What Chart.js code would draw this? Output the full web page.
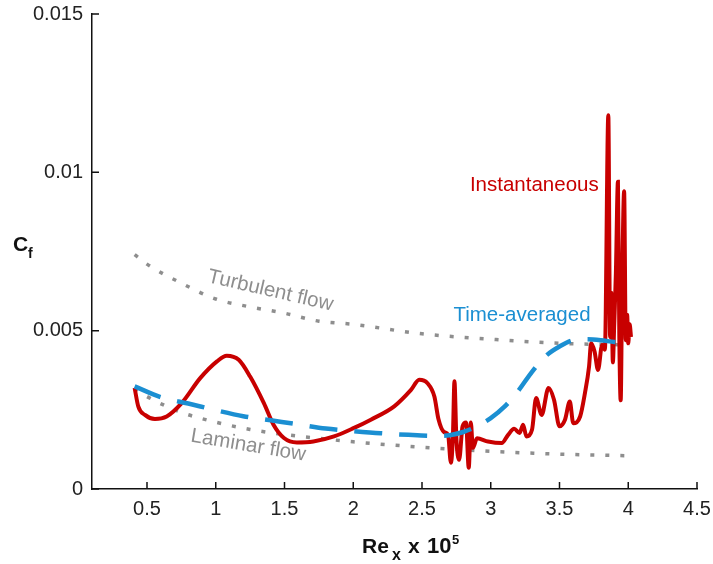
<!DOCTYPE html>
<html>
<head>
<meta charset="utf-8">
<script src="https://cdn.jsdelivr.net/npm/chart.js@4/dist/chart.umd.min.js"></script>
<style>
  html, body { margin: 0; padding: 0; background: #fff; }
  #wrap { width: 713px; height: 564px; }
</style>
</head>
<body>
<div id="wrap"><canvas id="cf"></canvas></div>
<script>
// Re_x (x 10^5) and Cf
const turbX = [0.41, 0.5, 0.75, 1.0, 1.25, 1.5, 1.75, 2.0, 2.5, 3.0, 3.5, 4.01];
const turbY = [0.0074, 0.0071, 0.0065, 0.0060, 0.00575, 0.00555, 0.0053, 0.0052, 0.0049, 0.00473, 0.0046, 0.00455];

const lamX = [0.41, 0.5, 0.75, 1.0, 1.25, 1.5, 1.75, 2.0, 2.5, 3.0, 3.5, 4.01];
const lamY = [0.00318, 0.00292, 0.00242, 0.00211, 0.00188, 0.00172, 0.0016, 0.00149, 0.00132, 0.00119, 0.0011, 0.00105];

const avgX = [0.41, 0.6, 0.8, 1.0, 1.2, 1.4, 1.6, 1.8, 2.0, 2.2, 2.4, 2.6, 2.7, 2.8, 2.9, 3.0, 3.1, 3.2, 3.3, 3.4, 3.5, 3.6, 3.7, 3.8, 3.9, 4.01];
const avgY = [0.00324, 0.0029, 0.0027, 0.00249, 0.0023, 0.00217, 0.00204, 0.00191, 0.00183, 0.00176, 0.00171, 0.00168, 0.0017, 0.0018, 0.00198, 0.00224, 0.0026, 0.0031, 0.0037, 0.0042, 0.0045, 0.0047, 0.00473, 0.0047, 0.00464, 0.00461];

const instX = [0.41, 0.437, 0.485, 0.558, 0.643, 0.752, 0.887, 1.009, 1.08, 1.167, 1.25, 1.35, 1.42, 1.496, 1.59, 1.71, 1.86, 2.006, 2.128, 2.298, 2.42, 2.48, 2.54, 2.59, 2.62, 2.66, 2.69, 2.71, 2.725, 2.736, 2.75, 2.77, 2.795, 2.82, 2.84, 2.855, 2.87, 2.9, 2.98, 3.08, 3.125, 3.17, 3.21, 3.235, 3.26, 3.3, 3.33, 3.37, 3.42, 3.46, 3.5, 3.54, 3.575, 3.6, 3.65, 3.685, 3.715, 3.73, 3.755, 3.78, 3.81, 3.83, 3.855, 3.868, 3.878, 3.888, 3.898, 3.91, 3.925, 3.935, 3.945, 3.955, 3.97, 3.982, 3.992, 4.0, 4.01, 4.02];
const instY = [0.00319, 0.0026, 0.00234, 0.00221, 0.00229, 0.00271, 0.0035, 0.00403, 0.00421, 0.00408, 0.00355, 0.00271, 0.00203, 0.00161, 0.00147, 0.0015, 0.00166, 0.00193, 0.00219, 0.00261, 0.00313, 0.00345, 0.00334, 0.00292, 0.0022, 0.0018, 0.0017, 0.00083, 0.0017, 0.0034, 0.0016, 0.00092, 0.00198, 0.0021, 0.00067, 0.0021, 0.0013, 0.0016, 0.0015, 0.00145, 0.0017, 0.0019, 0.00177, 0.00203, 0.00166, 0.00187, 0.00287, 0.00234, 0.00319, 0.00282, 0.00198, 0.00219, 0.00276, 0.00208, 0.00229, 0.00303, 0.00387, 0.0046, 0.00434, 0.00376, 0.00455, 0.0044, 0.0118, 0.0048, 0.0062, 0.0040, 0.0052, 0.0068, 0.0097, 0.0048, 0.0028, 0.0062, 0.0094, 0.0047, 0.0055, 0.0046, 0.0052, 0.0048];

const xTicks = [0.5, 1, 1.5, 2, 2.5, 3, 3.5, 4, 4.5];
const xTickLabels = ['0.5', '1', '1.5', '2', '2.5', '3', '3.5', '4', '4.5'];
const yTicks = [0, 0.005, 0.01, 0.015];
const yTickLabels = ['0', '0.005', '0.01', '0.015'];

const RED = '#c80000';
const BLUE = '#1b8fd2';
const GRAY = '#8e8e8e';
const FONT = '"Liberation Sans", Arial, Helvetica, sans-serif';

function pts(xs, ys) {
  return xs.map((x, i) => ({ x: x, y: ys[i] }));
}

// inward tick marks, like the original plot
const tickMarks = {
  id: 'tickMarks',
  afterDraw(chart) {
    const ctx = chart.ctx;
    const xs = chart.scales.x, ys = chart.scales.y;
    const area = chart.chartArea;
    ctx.save();
    ctx.strokeStyle = '#111';
    ctx.lineWidth = 1.5;
    ctx.beginPath();
    xTicks.forEach(v => {
      const px = xs.getPixelForValue(v);
      ctx.moveTo(px, area.bottom);
      ctx.lineTo(px, area.bottom - 7);
    });
    yTicks.forEach(v => {
      const py = ys.getPixelForValue(v);
      ctx.moveTo(area.left, py);
      ctx.lineTo(area.left + 7, py);
    });
    ctx.stroke();
    ctx.restore();
  }
};

// curve labels and axis titles
const labels = {
  id: 'labels',
  afterDraw(chart) {
    const ctx = chart.ctx;
    const xs = chart.scales.x, ys = chart.scales.y;
    const area = chart.chartArea;
    ctx.save();

    ctx.font = '20.5px ' + FONT;
    ctx.textBaseline = 'alphabetic';
    ctx.textAlign = 'right';
    ctx.fillStyle = RED;
    ctx.fillText('Instantaneous', xs.getPixelForValue(3.785), ys.getPixelForValue(0.00941));
    ctx.fillStyle = BLUE;
    ctx.fillText('Time-averaged', xs.getPixelForValue(3.726), ys.getPixelForValue(0.00531));

    ctx.fillStyle = GRAY;
    ctx.textAlign = 'center';
    ctx.textBaseline = 'middle';
    ctx.save();
    ctx.translate(xs.getPixelForValue(1.398), ys.getPixelForValue(0.00626));
    ctx.rotate(13 * Math.PI / 180);
    ctx.fillText('Turbulent flow', 0, 0);
    ctx.restore();
    ctx.save();
    ctx.translate(xs.getPixelForValue(1.237), ys.getPixelForValue(0.00137));
    ctx.rotate(9.5 * Math.PI / 180);
    ctx.fillText('Laminar flow', 0, 0);
    ctx.restore();

    // y title: C_f
    ctx.fillStyle = '#111';
    ctx.textAlign = 'left';
    ctx.textBaseline = 'alphabetic';
    ctx.font = 'bold 21px ' + FONT;
    ctx.fillText('C', area.left - 79, 251);
    ctx.font = 'bold 14px ' + FONT;
    ctx.fillText('f', area.left - 64, 258);

    // x title: Re_x  x 10^5
    const base = area.bottom + 64;
    const x0 = area.left + 270;
    ctx.font = 'bold 21px ' + FONT;
    ctx.fillText('Re', x0, base);
    ctx.font = 'bold 16px ' + FONT;
    ctx.fillText('x', x0 + 30, base + 7);
    ctx.font = 'bold 21px ' + FONT;
    ctx.fillText('x', x0 + 46, base);
    ctx.font = 'bold 22px ' + FONT;
    ctx.fillText('10', x0 + 65, base);
    ctx.font = 'bold 13px ' + FONT;
    ctx.fillText('5', x0 + 90, base - 9);

    ctx.restore();
  }
};

const ctx = document.getElementById('cf').getContext('2d');

new Chart(ctx, {
  type: 'scatter',
  data: {
    datasets: [
      {
        label: 'Time-averaged',
        data: pts(avgX, avgY),
        showLine: true,
        borderColor: BLUE,
        borderWidth: 4.5,
        borderDash: [28, 17],
        pointRadius: 0,
        tension: 0.4,
        cubicInterpolationMode: 'monotone',
        order: 0
      },
      {
        label: 'Instantaneous',
        data: pts(instX, instY),
        showLine: true,
        borderColor: RED,
        borderWidth: 4,
        pointRadius: 0,
        tension: 0.4,
        cubicInterpolationMode: 'monotone',
        order: 1
      },
      {
        label: 'Turbulent flow',
        data: pts(turbX, turbY),
        showLine: true,
        borderColor: GRAY,
        borderWidth: 3.5,
        borderDash: [4, 11],
        pointRadius: 0,
        tension: 0.4,
        cubicInterpolationMode: 'monotone',
        order: 2
      },
      {
        label: 'Laminar flow',
        data: pts(lamX, lamY),
        showLine: true,
        borderColor: GRAY,
        borderWidth: 3.5,
        borderDash: [4, 11],
        pointRadius: 0,
        tension: 0.4,
        cubicInterpolationMode: 'monotone',
        order: 3
      }
    ]
  },
  options: {
    responsive: true,
    maintainAspectRatio: false,
    animation: false,
    events: [],
    layout: { padding: { top: 14, right: 16, left: 0, bottom: 0 } },
    plugins: {
      legend: { display: false },
      tooltip: { enabled: false }
    },
    scales: {
      x: {
        type: 'linear',
        min: 0.1,
        max: 4.5,
        grid: { display: false, drawTicks: false },
        border: { display: true, color: '#111', width: 1.5 },
        afterBuildTicks: (scale) => { scale.ticks = xTicks.map(v => ({ value: v })); },
        afterFit: (scale) => {
          scale.height = 75;
          scale.paddingLeft = 0;
          scale.paddingRight = 0;
        },
        ticks: {
          padding: 8,
          color: '#222',
          font: { family: FONT, size: 20 },
          maxRotation: 0,
          callback: (v) => xTickLabels[xTicks.indexOf(v)]
        }
      },
      y: {
        type: 'linear',
        min: 0,
        max: 0.015,
        grid: { display: false, drawTicks: false },
        border: { display: true, color: '#111', width: 1.5 },
        afterBuildTicks: (scale) => { scale.ticks = yTicks.map(v => ({ value: v })); },
        afterFit: (scale) => {
          scale.width = 92;
          scale.paddingTop = 0;
          scale.paddingBottom = 0;
        },
        ticks: {
          padding: 9,
          color: '#222',
          font: { family: FONT, size: 20 },
          callback: (v) => yTickLabels[yTicks.indexOf(v)]
        }
      }
    }
  },
  plugins: [tickMarks, labels]
});
</script>
</body>
</html>
